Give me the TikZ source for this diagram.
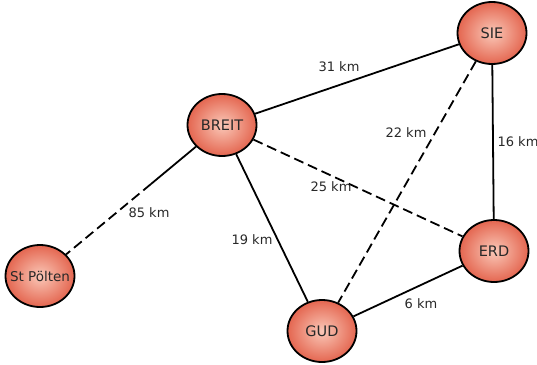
\documentclass[tikz,border=0pt]{standalone}
\usepackage{fontspec}
\setmainfont{DejaVu Sans}
\usepackage{amsmath}
\usetikzlibrary{shapes.geometric}
\definecolor{ballin}{RGB}{250,200,184}
\definecolor{ballout}{RGB}{228,102,80}
\definecolor{txtgray}{RGB}{40,40,40}

\begin{document}
\begin{tikzpicture}[x=1pt,y=-1pt,
        town/.style={ellipse,draw,line width=1.8pt,minimum width=69pt,minimum height=62pt,inner sep=0pt,
            inner color=ballin,outer color=ballout,text=txtgray,font=\fontsize{14.5}{16}\selectfont},
        road/.style={-,line width=1.8pt},
        dashroad/.style={road,dash pattern=on 10pt off 5pt},
        km/.style={text=txtgray,font=\fontsize{13}{15}\selectfont}]
        \useasboundingbox (0,0) rectangle (537,364);

        \node[town](breit) at (222,125){BREIT};
        \node[town](sie) at (492,33){SIE};
        \node[town](erd) at (494,251){ERD};
        \node[town](gud) at (322,331){GUD};
        \node[town,inner xsep=-9pt,font=\fontsize{13.5}{15}\selectfont](stp) at (40,276){St Pölten};
        \coordinate(brk) at (151,184);

        \draw[road](breit)--(sie);
        \draw[road](breit)--(brk);
        \draw[dashroad](brk)--(stp);
        \draw[road](breit)--(gud);
        \draw[dashroad](breit)--(erd);
        \draw[dashroad](sie)--(gud);
        \draw[road](sie)--(erd);
        \draw[road](gud)--(erd);

        \node[km](l31) at (339,67){31 km};
        \node[km](l85) at (149,213){85 km};
        \node[km](l19) at (252,240){19 km};
        \node[km](l25) at (331,187){25 km};
        \node[km](l22) at (406,133){22 km};
        \node[km](l16) at (518,142){16 km};
        \node[km](l6) at (421,304){6 km};
    \end{tikzpicture}
\end{document}
